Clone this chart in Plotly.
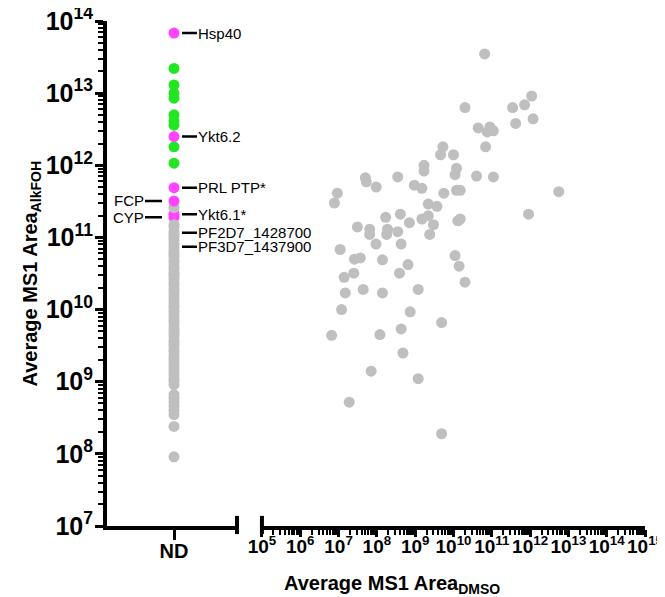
import numpy as np
import plotly.graph_objects as go

# detected in both conditions: DMSO area (x) vs AlkFOH area (y)
dmso_area = [6.5e10, 2.0e10, 4.4e10, 5.3e9, 4.6e9, 1.0e10, 1.7e9, 1.7e9, 1.2e10, 1.1e10,
             4.0e10, 5.0e7, 5.3e7, 3.5e8, 9.6e7, 9.5e8, 1.5e9, 5.6e9, 1.2e10, 1.5e10,
             9.3e6, 7.8e6, 2.2e9, 3.7e9, 1.7e8, 4.1e8, 7.1e8, 1.5e9, 2.2e9, 3.0e9,
             1.5e10, 1.3e10, 3.1e7, 6.5e7, 6.5e7, 1.9e8, 1.8e8, 3.5e8, 2.4e9, 9.5e7,
             4.3e8, 1.1e7, 2.6e7, 3.7e7, 1.4e8, 6.5e8, 3.9e8, 1.1e10, 1.4e10, 2.0e10,
             1.4e7, 2.5e7, 1.5e7, 4.4e7, 1.4e8, 1.2e9, 1.2e7, 7.4e8, 4.9e9, 4.3e8,
             6.6e6, 1.2e8, 4.8e8, 7.1e7, 1.2e9, 1.9e7, 4.9e9, 1.1e12, 7.2e11, 3.5e11,
             4.2e11, 1.2e12, 8.9e10, 7.6e10, 1.1e11, 6.9e10, 1.1e11, 5.6e12, 9.1e11]
alkfoh_area = [3.5e13, 6.3e12, 3.3e12, 1.8e12, 1.4e12, 1.4e12, 1.0e12, 8.3e11, 9.1e11, 7.4e11,
               7.1e11, 6.7e11, 5.9e11, 6.9e11, 5.0e11, 5.3e11, 4.8e11, 4.1e11, 4.5e11, 4.5e11,
               4.1e11, 3.0e11, 2.9e11, 2.7e11, 1.9e11, 2.1e11, 1.6e11, 1.8e11, 2.0e11, 1.5e11,
               1.8e11, 1.7e11, 1.4e11, 1.3e11, 1.1e11, 1.3e11, 1.1e11, 1.2e11, 1.1e11, 8.1e10,
               8.1e10, 6.8e10, 5.0e10, 5.2e10, 4.9e10, 4.2e10, 3.2e10, 5.6e10, 4.0e10, 2.4e10,
               2.8e10, 3.2e10, 1.7e10, 1.9e10, 1.7e10, 1.9e10, 1.0e10, 9.3e9, 6.6e9, 5.4e9,
               4.4e9, 4.5e9, 2.5e9, 1.4e9, 1.1e9, 5.2e8, 1.9e8, 9.1e12, 6.9e12, 6.3e12,
               3.8e12, 4.4e12, 3.4e12, 2.9e12, 3.0e12, 1.8e12, 6.9e11, 4.3e11, 2.1e11]

# not detected in DMSO
nd_gray = [2.6e11, 1.5e11, 1.4e11, 1.2e11, 1.1e11, 1.0e11, 9.1e10, 8.1e10, 7.4e10, 6.6e10,
           6.0e10, 5.5e10, 4.9e10, 4.5e10, 4.0e10, 3.6e10, 3.2e10, 3.0e10, 2.7e10, 2.4e10,
           2.2e10, 1.95e10, 1.8e10, 1.6e10, 1.45e10, 1.3e10, 1.17e10, 1.07e10, 9.5e9, 8.7e9,
           7.8e9, 7.1e9, 6.5e9, 5.8e9, 5.2e9, 4.7e9, 4.3e9, 3.8e9, 3.5e9, 3.2e9,
           2.8e9, 2.6e9, 2.3e9, 2.1e9, 1.9e9, 1.7e9, 1.55e9, 1.4e9, 1.26e9, 1.12e9,
           1.02e9, 9.1e8, 6.6e8, 5.9e8, 5.2e8, 4.6e8, 4.0e8, 3.5e8, 2.4e8, 9.1e7]
nd_green = [2.2e13, 1.3e13, 1.0e13, 8.5e12, 5.0e12, 4.1e12, 3.6e12, 1.8e12, 1.07e12]
magenta_top_names = ['Hsp40', 'Ykt6.2', 'PRL PTP*', 'FCP']
magenta_top = [6.8e13, 2.5e12, 4.9e11, 3.2e11]
magenta_low_names = ['Ykt6.1*', 'CYP']
magenta_low = [2.1e11, 1.9e11]
# labels pointing into the gray column
extra_names = ['PF2D7_1428700', 'PF3D7_1437900']
extra_vals = [1.16e11, 7.4e10]

decades = list(range(5, 16))
x_tickvals = [10.0 ** d for d in decades]
x_ticktext = ['10<sup>%d</sup>' % d for d in decades]

GRAY = '#bfbfbf'
GREEN = '#22e622'
MAGENTA = '#ff44ff'
FONT = 'Liberation Sans, Arial, sans-serif'
ND_X = 1

def mk(x, y, color, xa='x'):
    return go.Scatter(x=x, y=y, mode='markers', xaxis=xa, yaxis='y', hoverinfo='skip',
                      marker=dict(size=11, color=color, line=dict(width=0)))

fig = go.Figure()
fig.add_trace(mk([ND_X] * len(magenta_low), magenta_low, MAGENTA))
fig.add_trace(mk([ND_X] * len(nd_gray), nd_gray, GRAY))
fig.add_trace(mk([ND_X] * len(nd_green), nd_green, GREEN))
fig.add_trace(mk([ND_X] * len(magenta_top), magenta_top, MAGENTA))
fig.add_trace(mk(dmso_area, alkfoh_area, GRAY, xa='x2'))

left_side = {'FCP', 'CYP'}
for name, v in zip(magenta_top_names + magenta_low_names + extra_names,
                   magenta_top + magenta_low + extra_vals):
    left = name in left_side
    fig.add_annotation(x=ND_X, y=np.log10(v), xref='x', yref='y', text=name,
                       showarrow=True, arrowhead=0, arrowwidth=2.5, arrowcolor='black',
                       ax=-29 if left else 23, ay=0, standoff=12 if left else 8,
                       xanchor='right' if left else 'left', borderpad=0,
                       font=dict(family=FONT, size=15, color='black'))

axis_common = dict(showline=True, linewidth=4, linecolor='black', ticks='outside',
                   tickwidth=3, tickcolor='black', showgrid=False, zeroline=False,
                   automargin=False, tickangle=0, ticklabeloverflow='allow',
                   tickfont=dict(family=FONT, size=20, color='black', weight='bold'))
minor_ticks = dict(ticks='outside', dtick='D1', ticklen=5, tickwidth=2,
                   tickcolor='black', showgrid=False)

# page body adds an 8px offset, so the figure is 8px smaller and margins shifted
fig.update_layout(
    width=657, height=589,
    margin=dict(l=99, r=20, t=13, b=71),
    plot_bgcolor='white', paper_bgcolor='white', showlegend=False,
    xaxis=dict(domain=[0, 0.2416], range=[0, 1.94], tickmode='array', tickvals=[ND_X],
               ticktext=['ND'], ticklen=10, anchor='y', ticklabelstandoff=-6,
               **axis_common),
    xaxis2=dict(domain=[0.288, 1], type='log', range=[5, 15], tickmode='array',
                tickvals=x_tickvals, ticktext=x_ticktext, ticklen=7, anchor='y',
                ticklabelstandoff=-7, minor=minor_ticks, **axis_common),
    yaxis=dict(type='log', range=[7, 14], tickmode='linear', tick0=0, dtick=1,
               exponentformat='power', showexponent='all', ticklen=8, anchor='x',
               ticklabelstandoff=-2, minor=minor_ticks, **axis_common),
)
fig.update_layout(xaxis2=dict(tickfont=dict(size=19)), yaxis=dict(tickfont=dict(size=20)))

# broken-axis end caps
for xp in [0.2416, 0.288]:
    fig.add_shape(type='line', xref='paper', yref='paper', x0=xp, x1=xp, y0=0.02, y1=-0.016,
                  line=dict(color='black', width=4))

fig.add_annotation(text='Average MS1 Area<sub>DMSO</sub>', xref='paper', yref='paper',
                   x=(392 - 107) / 538, y=-0.116, showarrow=False,
                   xanchor='center', yanchor='middle',
                   font=dict(family=FONT, size=20, color='black', weight='bold'))
fig.add_annotation(text='Average MS1 Area<sub>AlkFOH</sub>', xref='paper', yref='paper',
                   x=(31 - 107) / 538, y=0.5, showarrow=False, textangle=-90,
                   xanchor='center', yanchor='middle',
                   font=dict(family=FONT, size=20, color='black', weight='bold'))

fig.write_html("out.html")
